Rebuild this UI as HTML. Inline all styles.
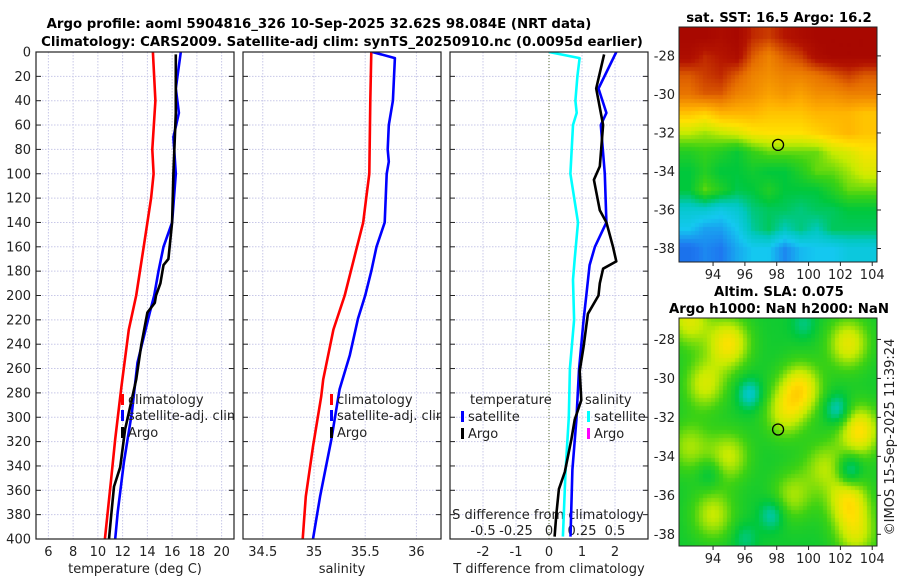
<!DOCTYPE html>
<html><head><meta charset="utf-8"><style>
body{margin:0;background:#fff;width:900px;height:580px;overflow:hidden;font-family:"DejaVu Sans","Liberation Sans",sans-serif}
svg{position:absolute;left:0;top:0}
canvas{position:absolute}
</style></head><body>
<canvas id="sst" width="198" height="235" style="left:679px;top:27px"></canvas>
<canvas id="sla" width="198" height="228" style="left:679px;top:318px"></canvas>
<svg id="main" width="900" height="580" font-family="DejaVu Sans, Liberation Sans, sans-serif"></svg>
<script>
// depths
const depthsT=[0,30,50,70,100,140,160,180,200,214,255,296,337,378,400];
const tempSat=[16.7,16.3,16.55,16.1,16.3,16.0,15.3,14.9,14.55,14.2,13.2,12.75,12.1,11.6,11.4];
const depthsClim=[0,40,80,100,120,140,160,200,228,275,318,352,400];
const tempClim=[14.45,14.65,14.4,14.5,14.3,14.0,13.7,13.1,12.5,11.9,11.4,11.06,10.57];
const depthsArgo=[2,50,100,140,170,175,190,200,206,214,241,269,310,341,357,378,400];
const tempArgo=[16.3,16.3,16.1,16.0,15.7,15.3,15.05,14.7,14.6,14.0,13.5,13.1,12.2,11.8,11.3,11.1,10.9];
const depthsSC=[0,40,100,120,140,160,200,228,269,283,324,365,400];
const salClim=[35.56,35.55,35.54,35.51,35.48,35.42,35.3,35.19,35.09,35.07,34.99,34.92,34.89];
const depthsSS=[0,5,40,60,80,90,100,140,160,180,200,219,249,277,318,365,400];
const salSat=[35.57,35.79,35.77,35.73,35.72,35.73,35.71,35.69,35.61,35.56,35.5,35.43,35.35,35.25,35.17,35.06,34.99];
const depthsDS=[0,30,50,60,80,100,140,160,175,200,220,261,302,343,398];
const dTSat=[2.04,1.5,1.74,1.57,1.63,1.69,1.74,1.39,1.23,1.13,1.05,0.91,0.83,0.71,0.65];
const depthsDA=[2,30,60,94,105,130,140,160,172,178,190,200,215,242,262,286,302,318,345,359,380,398];
const dTArgo=[1.67,1.43,1.64,1.54,1.36,1.54,1.74,1.94,2.04,1.64,1.54,1.5,1.18,1.05,0.93,0.98,0.78,0.68,0.48,0.3,0.22,0.17];
const depthsDSS=[0,5,20,40,50,60,100,140,170,187,220,260,300,345,398];
const dSSat=[0,0.232,0.215,0.2,0.21,0.182,0.162,0.22,0.195,0.182,0.19,0.158,0.15,0.125,0.105];
const depthTicks=[0,20,40,60,80,100,120,140,160,180,200,220,240,260,280,300,320,340,360,380,400];
const tTicks=[6,8,10,12,14,16,18,20];
const sTicks=[34.5,35,35.5,36];
const dTicks=[-2,-1,0,1,2];
const dsTicks=[-0.5,-0.25,0,0.25,0.5];
const dsLabels=["-0.5","-0.25","0","0.25","0.5"];

const NS="http://www.w3.org/2000/svg";
const svg=document.getElementById('main');
function el(tag,attrs,parent){const e=document.createElementNS(NS,tag);for(const k in attrs)e.setAttribute(k,attrs[k]);(parent||svg).appendChild(e);return e;}
const Y0=52,Y1=539;
const yD=z=>Y0+(Y1-Y0)*z/400;
const panels=[{x0:36,x1:234,lo:5,hi:21},{x0:243,x1:441,lo:34.307,hi:36.24},{x0:450,x1:648,lo:-3,hi:3}];
function sx(p,v){return p.x0+(v-p.lo)/(p.hi-p.lo)*(p.x1-p.x0);}
const pDS={x0:450,x1:648,lo:-0.75,hi:0.75};

function panelFrame(i,p,xt,name){
  const g=el('g',{});
  
  
  xt.forEach(v=>{const x=sx(p,v);const l=el('line',{x1:x,x2:x,y1:Y0,y2:Y1,stroke:'#c8c8e8','stroke-width':1,'stroke-dasharray':'1.5,1.5'},g);});
  depthTicks.forEach(z=>{const y=yD(z);const l=el('line',{x1:p.x0,x2:p.x1,y1:y,y2:y,stroke:'#c8c8e8','stroke-width':1,'stroke-dasharray':'1.5,1.5'},g);
    el('line',{x1:p.x0,x2:p.x0+5,y1:y,y2:y,stroke:'#222'},g);el('line',{x1:p.x1-5,x2:p.x1,y1:y,y2:y,stroke:'#222'},g);});
  return g;
}
function line(p,xs,zs,color,name,w){
  const d=xs.map((v,i)=>(i?'L':'M')+sx(p,v).toFixed(1)+','+yD(zs[i]).toFixed(1)).join('');
  const e=el('path',{d:d,fill:'none',stroke:color,'stroke-width':w||2.6,'stroke-linejoin':'round','clip-path':'url(#c2)'});
  
  
  return e;
}
const defs=el('defs',{});
panels.forEach((p,i)=>{const c=el('clipPath',{id:'c'+i},defs);el('rect',{x:p.x0,y:Y0,width:p.x1-p.x0,height:Y1-Y0},c);});
function text(x,y,s,opts,name){const t=el('text',Object.assign({x:x,y:y,'font-size':13,fill:'#222'},opts||{}));t.textContent=s;return t;}

// titles
text(319,28,'Argo profile: aoml 5904816_326 10-Sep-2025 32.62S 98.084E (NRT data)',{'text-anchor':'middle','font-weight':'bold','font-size':13.3,fill:'#000'},'title-line-1');
text(342,46,'Climatology: CARS2009. Satellite-adj clim: synTS_20250910.nc (0.0095d earlier)',{'text-anchor':'middle','font-weight':'bold','font-size':13.3,fill:'#000'},'title-line-2');

function lineIn(pi,p,xs,zs,color,name){const e=line(p,xs,zs,color,name);e.setAttribute('clip-path','url(#c'+pi+')');return e;}
// panel 1
panelFrame(0,panels[0],tTicks,'temperature-panel');
depthTicks.forEach(z=>text(31,yD(z)+4.5,String(z),{'text-anchor':'end'},'y-tick-label'));
tTicks.forEach(v=>text(sx(panels[0],v),556,String(v),{'text-anchor':'middle'},'x-tick-label'));
text(135,573,'temperature (deg C)',{'text-anchor':'middle'},'x-axis-title');
lineIn(0,panels[0],tempClim,depthsClim,'#ff0000','temp-clim-line');
lineIn(0,panels[0],tempSat,depthsT,'#0000ff','temp-sat-line');
lineIn(0,panels[0],tempArgo,depthsArgo,'#000','temp-argo-line');
// panel 2
panelFrame(1,panels[1],sTicks,'salinity-panel');
sTicks.forEach(v=>text(sx(panels[1],v),556,String(v),{'text-anchor':'middle'},'x-tick-label'));
text(342,573,'salinity',{'text-anchor':'middle'},'x-axis-title');
lineIn(1,panels[1],salClim,depthsSC,'#ff0000','sal-clim-line');
lineIn(1,panels[1],salSat,depthsSS,'#0000ff','sal-sat-line');
// panel 3
panelFrame(2,panels[2],dTicks,'difference-panel');
const zx=sx(panels[2],0);
el('line',{x1:zx,x2:zx,y1:Y0,y2:Y1,stroke:'#556b2f','stroke-width':1,'stroke-dasharray':'1,2'});
dTicks.forEach(v=>text(sx(panels[2],v),556,String(v),{'text-anchor':'middle'},'x-tick-label'));
text(549,573,'T difference from climatology',{'text-anchor':'middle'},'x-axis-title');
text(548,519,'S difference from climatology',{'text-anchor':'middle'},'s-axis-title');
dsTicks.forEach((v,i)=>text(sx(pDS,v),535,dsLabels[i],{'text-anchor':'middle'},'s-tick-label'));
line(pDS,dSSat,depthsDSS,'#00ffff','dsal-sat-line');
line(panels[2],dTSat,depthsDS,'#0000ff','dtemp-sat-line');
line(panels[2],dTArgo,depthsDA,'#000','dtemp-argo-line');

// frames
panels.forEach(p=>el('rect',{x:p.x0,y:Y0,width:p.x1-p.x0,height:Y1-Y0,fill:'none',stroke:'#222','stroke-width':1.2}));

// legends
function legend(x,y,color,label,clip,name){
  const g=el('g',{'clip-path':'url(#'+clip+')'});
  
  el('rect',{x:x,y:y-10,width:3,height:11,fill:color},g);
  const t=el('text',{x:x+7,y:y,'font-size':13,fill:'#222'},g);t.textContent=label;return g;
}
legend(121,404,'#ff0000','climatology','c0','legend-clim');
legend(121,420,'#0000ff','satellite-adj. clim','c0','legend-sat');
legend(121,437,'#000','Argo','c0','legend-argo');
legend(330,404,'#ff0000','climatology','c1','legend-clim');
legend(330,420,'#0000ff','satellite-adj. clim','c1','legend-sat');
legend(330,437,'#000','Argo','c1','legend-argo');
text(470,404,'temperature',{},'legend-temperature-heading');
legend(461,421,'#0000ff','satellite','c2','legend-t-sat');
legend(461,438,'#000','Argo','c2','legend-t-argo');
text(585,404,'salinity',{},'legend-salinity-heading');
legend(587,421,'#00ffff','satellite','c2','legend-s-sat');
legend(587,438,'#ff00ff','Argo','c2','legend-s-argo');

// maps
const lonTicks=[94,96,98,100,102,104];
const latTicks=[-28,-30,-32,-34,-36,-38];
const sstGrid=[
[0.97,0.97,0.95,0.97,0.9,0.88,0.92,0.95,0.97,0.97,0.97,0.97],
[0.95,0.9,0.92,0.95,0.85,0.8,0.85,0.88,0.95,0.97,0.97,0.97],
[0.85,0.88,0.9,0.85,0.8,0.78,0.8,0.8,0.82,0.85,0.88,0.85],
[0.82,0.85,0.85,0.8,0.78,0.75,0.77,0.75,0.78,0.78,0.8,0.8],
[0.7,0.68,0.72,0.72,0.72,0.7,0.7,0.7,0.72,0.72,0.72,0.7],
[0.6,0.58,0.6,0.62,0.65,0.66,0.66,0.66,0.68,0.7,0.72,0.7],
[0.5,0.52,0.5,0.47,0.52,0.55,0.55,0.55,0.55,0.6,0.62,0.65],
[0.46,0.5,0.46,0.46,0.48,0.46,0.46,0.5,0.55,0.55,0.58,0.62],
[0.46,0.55,0.5,0.45,0.46,0.5,0.46,0.46,0.46,0.5,0.55,0.55],
[0.35,0.35,0.32,0.35,0.42,0.44,0.44,0.42,0.44,0.44,0.46,0.46],
[0.3,0.25,0.25,0.3,0.4,0.44,0.38,0.42,0.38,0.44,0.44,0.44],
[0.18,0.22,0.2,0.26,0.3,0.3,0.22,0.28,0.3,0.3,0.33,0.33]];
const slaLon=[92.5,95,102.5,93.5,99.5,98.5,103.2,92.5,95,101,102.5,99,94,103,96.3,101.8,102.6,97.7,93.8,99.7,96];
const slaLat=[-27,-28.2,-28.2,-30.3,-30.5,-31.8,-32.7,-33.5,-34,-34.5,-36.3,-36,-37,-38,-30.8,-31.6,-34.7,-37,-34.9,-27.2,-38.2];
const slaAmp=[0.14,0.17,0.15,0.13,0.17,0.12,0.18,0.1,0.12,0.1,0.16,0.1,0.12,0.12,-0.12,-0.12,-0.12,-0.1,-0.06,-0.06,-0.06];
const stops=[[0,[0,60,200]],[0.2,[30,120,240]],[0.3,[20,200,240]],[0.38,[0,200,190]],[0.46,[0,200,60]],[0.53,[60,210,20]],[0.6,[200,235,0]],[0.66,[255,225,0]],[0.73,[255,175,0]],[0.83,[230,110,0]],[0.92,[180,20,0]],[1,[160,0,0]]];
function cmap(v){v=Math.max(0,Math.min(1,v));for(let i=1;i<stops.length;i++){if(v<=stops[i][0]){const a=stops[i-1],b=stops[i],t=(v-a[0])/(b[0]-a[0]);return 'rgb('+a[1].map((c,k)=>Math.round(c+(b[1][k]-c)*t)).join(',')+')';}}return 'rgb(160,0,0)';}
const LON0=91.86,LON1=104.3,LAT0=-26.5,LAT1=-38.7;
(function(){
  const c=document.getElementById('sst').getContext('2d');const W=198,H=235,cs=4;
  for(let py=0;py<H;py+=cs)for(let px=0;px<W;px+=cs){
    const lon=LON0+(px+2)/W*(LON1-LON0),lat=LAT0+(py+2)/H*(LAT1-LAT0);
    let gx=Math.max(0,Math.min(10.999,lon-92.5)),gy=Math.max(0,Math.min(10.999,-27-lat));
    const ix=Math.floor(gx),iy=Math.floor(gy),fx=gx-ix,fy=gy-iy;
    const v=sstGrid[iy][ix]*(1-fx)*(1-fy)+sstGrid[iy][ix+1]*fx*(1-fy)+sstGrid[iy+1][ix]*(1-fx)*fy+sstGrid[iy+1][ix+1]*fx*fy;
    c.fillStyle=cmap(v);c.fillRect(px,py,cs,cs);}
})();
(function(){
  const c=document.getElementById('sla').getContext('2d');const W=198,H=228,cs=4;
  const la0=-26.9,la1=-38.6;
  for(let py=0;py<H;py+=cs)for(let px=0;px<W;px+=cs){
    const lon=LON0+(px+2)/W*(LON1-LON0),lat=la0+(py+2)/H*(la1-la0);
    let v=0.48;
    for(let i=0;i<slaLon.length;i++){const d2=(lon-slaLon[i])**2+(lat-slaLat[i])**2;v+=slaAmp[i]*Math.exp(-d2/(slaAmp[i]>0?1.8:0.6));}
    c.fillStyle=cmap(v);c.fillRect(px,py,cs,cs);}
})();
function mapAxes(x0,y0,w,h,lat0,lat1,name){
  const g=el('g',{});
  el('rect',{x:x0,y:y0,width:w,height:h,fill:'none',stroke:'#222','stroke-width':1},g);
  lonTicks.forEach(v=>{const x=x0+(v-LON0)/(LON1-LON0)*w;el('line',{x1:x,x2:x,y1:y0+h,y2:y0+h+4,stroke:'#222'},g);const t=el('text',{x:x,y:y0+h+17,'text-anchor':'middle','font-size':13,fill:'#222'},g);t.textContent=v;});
  latTicks.forEach(v=>{const y=y0+(v-lat0)/(lat1-lat0)*h;el('line',{x1:x0+w,x2:x0+w+4,y1:y,y2:y,stroke:'#222'},g);const t=el('text',{x:x0-4,y:y+4.5,'text-anchor':'end','font-size':13,fill:'#222'},g);t.textContent=v;});
  const cx=x0+(98.084-LON0)/(LON1-LON0)*w,cy=y0+(-32.62-lat0)/(lat1-lat0)*h;
  const c=el('circle',{cx:cx,cy:cy,r:5.5,fill:'none',stroke:'#000','stroke-width':1.3},g);
  
}
mapAxes(679,27,198,235,LAT0,LAT1,'sst-map-axes');
mapAxes(679,318,198,228,-26.9,-38.6,'sla-map-axes');
text(779,22,'sat. SST: 16.5 Argo: 16.2',{'text-anchor':'middle','font-weight':'bold','font-size':13.3,fill:'#000'},'sst-map-title');
text(779,296,'Altim. SLA: 0.075',{'text-anchor':'middle','font-weight':'bold','font-size':13.3,fill:'#000'},'sla-map-title');
text(779,313,'Argo h1000: NaN h2000: NaN',{'text-anchor':'middle','font-weight':'bold','font-size':13.3,fill:'#000'},'sla-map-subtitle');
text(0,0,'©IMOS 15-Sep-2025 11:39:24',{'text-anchor':'middle','font-size':13,transform:'translate(894,437) rotate(-90)'},'timestamp-credit');
</script>
</body></html>
